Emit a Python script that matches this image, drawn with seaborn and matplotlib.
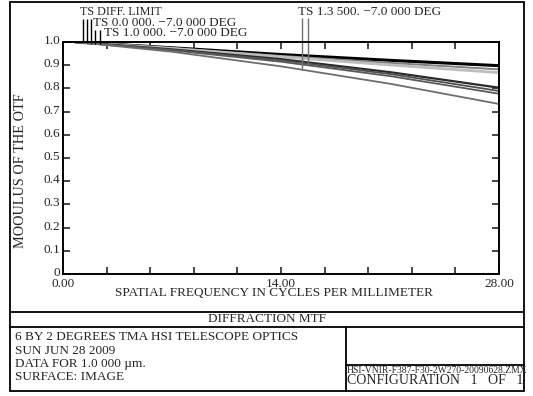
import numpy as np
import pandas as pd
import matplotlib
matplotlib.use("Agg")
import matplotlib.pyplot as plt
from matplotlib.lines import Line2D
import matplotlib.transforms as mtransforms
import seaborn as sns

# ---------------- data ----------------
freq = [0.8, 7.0, 14.0, 21.0, 28.0]
series_names = ["DIFF T", "0.0 T", "0.0 S", "1.0 T", "1.0 S", "1.35 T", "1.35 S"]
diff_lim = [1.0, 0.975, 0.946, 0.921, 0.898]
f00_t = [1.0, 0.974, 0.940, 0.910, 0.882]
f00_s = [1.0, 0.972, 0.936, 0.901, 0.868]
f10_t = [1.0, 0.968, 0.926, 0.870, 0.803]
f10_s = [1.0, 0.966, 0.921, 0.862, 0.789]
f135_t = [1.0, 0.964, 0.915, 0.853, 0.777]
f135_s = [1.0, 0.958, 0.895, 0.820, 0.733]
series_vals = [diff_lim, f00_t, f00_s, f10_t, f10_s, f135_t, f135_s]

# label pointers (frequency where each label's pointer meets its curve)
label_texts = ["TS DIFF. LIMIT", "TS 0.0 000. \u22127.0 000 DEG",
               "TS 1.0 000. \u22127.0 000 DEG", "TS 1.3 500. \u22127.0 000 DEG"]
pointer_freq = [[1.28], [1.54, 1.80], [2.06, 2.38], [15.73, 15.35]]
pointer_series = [[0], [1, 2], [3, 4], [5, 6]]

yticks = [0.0, 0.1, 0.2, 0.3, 0.4, 0.5, 0.6, 0.7, 0.8, 0.9, 1.0]
ytick_labels = ["0", "0.1", "0.2", "0.3", "0.4", "0.5", "0.6", "0.7", "0.8", "0.9", "1.0"]
xticks = [0.0, 2.8, 5.6, 8.4, 11.2, 14.0, 16.8, 19.6, 22.4, 25.2, 28.0]
xtick_labels = ["0.00", "", "", "", "", "14.00", "", "", "", "", "28.00"]

title_text = "DIFFRACTION MTF"
info_lines = ["6 BY 2 DEGREES TMA HSI TELESCOPE OPTICS", "SUN JUN 28 2009",
              "DATA FOR 1.0 000 \u00b5m.", "SURFACE: IMAGE"]
file_text = "HSI-VNIR-F387-F30-2W270-20090628.ZMX"
config_text = "CONFIGURATION   1   OF   1"

# ---------------- styling ----------------
sns.set_style("ticks")
plt.rcParams["font.family"] = ["Liberation Serif", "DejaVu Serif"]
plt.rcParams["axes.linewidth"] = 1.4
plt.rcParams["xtick.direction"] = "in"
plt.rcParams["ytick.direction"] = "in"

W, H = 533, 396
fig = plt.figure(figsize=(W / 100, H / 100), dpi=100)
fig.patch.set_facecolor("white")

def fx(x):
    return x / W

def fy(y):
    return 1 - y / H

AX_L, AX_R, AX_T, AX_B = 63, 499, 42, 274
ax = fig.add_axes([fx(AX_L), fy(AX_B), fx(AX_R) - fx(AX_L), fy(AX_T) - fy(AX_B)])

rows = []
for name, vals in zip(series_names, series_vals):
    for f, v in zip(freq, vals):
        rows.append({"freq": f, "mtf": v, "series": name})
df = pd.DataFrame(rows)

palette = {"DIFF T": "#000000", "0.0 T": "#808080", "0.0 S": "#bdbdbd",
           "1.0 T": "#2a2a2a", "1.0 S": "#505050", "1.35 T": "#5a5a5a",
           "1.35 S": "#6e6e6e"}
widths = {"DIFF T": 2.2, "0.0 T": 1.4, "0.0 S": 2.0, "1.0 T": 1.6,
          "1.0 S": 1.3, "1.35 T": 1.3, "1.35 S": 1.3}
for name in series_names:
    sns.lineplot(data=df[df.series == name], x="freq", y="mtf", ax=ax,
                 color=palette[name], lw=widths[name], legend=False)

ax.set_xlim(0, 28)
ax.set_ylim(0, 1.0)
ax.set_xticks(xticks)
ax.set_xticklabels(xtick_labels)
ax.set_yticks(yticks)
ax.set_yticklabels(ytick_labels)
ax.tick_params(axis="both", which="both", length=5, width=1.2, labelsize=9.5,
               top=True, right=True)
ax.tick_params(axis="x", pad=3)
ax.tick_params(axis="y", pad=2)
# y tick labels sit slightly above their ticks
up = mtransforms.ScaledTranslation(0, 2.5 / 100, fig.dpi_scale_trans)
for lab in ax.get_yticklabels():
    lab.set_transform(lab.get_transform() + up)

ax.set_xlabel("SPATIAL FREQUENCY IN CYCLES PER MILLIMETER", fontsize=9.5)
ax.xaxis.set_label_coords((273.5 - AX_L) / (AX_R - AX_L), (AX_B - 286.5) / (AX_B - AX_T))
ax.set_ylabel("MOOULUS OF THE OTF", fontsize=10.3)
ax.yaxis.set_label_coords((27 - AX_L) / (AX_R - AX_L), (AX_B - 171) / (AX_B - AX_T))
for s in ax.spines.values():
    s.set_color("black")

# ---------------- curve labels with pointers ----------------
label_pos = [(80, 12), (93, 22.5), (103.5, 33.5), (298.5, 12)]
label_size = [8.7, 9.5, 9.5, 9.5]
pointer_top = [19, 19, 30, 18]
pointer_color = ["black", "black", "black", "#707070"]
for i, txt in enumerate(label_texts):
    x0, y0 = label_pos[i]
    fig.text(fx(x0), fy(y0), txt, fontsize=label_size[i], va="center", ha="left")
    for f, si in zip(pointer_freq[i], pointer_series[i]):
        yv = np.interp(f, freq, series_vals[si])
        ytop = (AX_B - pointer_top[i]) / (AX_B - AX_T)
        ax.plot([f, f], [yv, ytop], color=pointer_color[i], lw=1.0,
                clip_on=False, solid_capstyle="butt")

# ---------------- frame and info boxes ----------------
def hline(y, x0, x1, lw=1.3):
    fig.add_artist(Line2D([fx(x0), fx(x1)], [fy(y), fy(y)], color="black",
                          lw=lw, transform=fig.transFigure))

def vline(x, y0, y1, lw=1.3):
    fig.add_artist(Line2D([fx(x), fx(x)], [fy(y0), fy(y1)], color="black",
                          lw=lw, transform=fig.transFigure))

hline(1.5, 10, 524)
hline(391, 10, 524)
vline(10, 1.5, 391)
vline(524, 1.5, 391)
hline(311.5, 10, 524)
hline(326.5, 10, 524)
vline(345.5, 326.5, 391)
hline(365, 345.5, 524)

fig.text(fx(267), fy(319.5), title_text, fontsize=9.5, ha="center", va="center")
for i, line in enumerate(info_lines):
    fig.text(fx(15), fy(337.5 + i * 13.2), line, fontsize=9.5, ha="left", va="center")
fig.text(fx(347), fy(370.5), file_text, fontsize=6.9, ha="left", va="center")
fig.text(fx(347), fy(380.5), config_text, fontsize=10, ha="left", va="center")

fig.savefig("out.png", dpi=100, facecolor="white")
